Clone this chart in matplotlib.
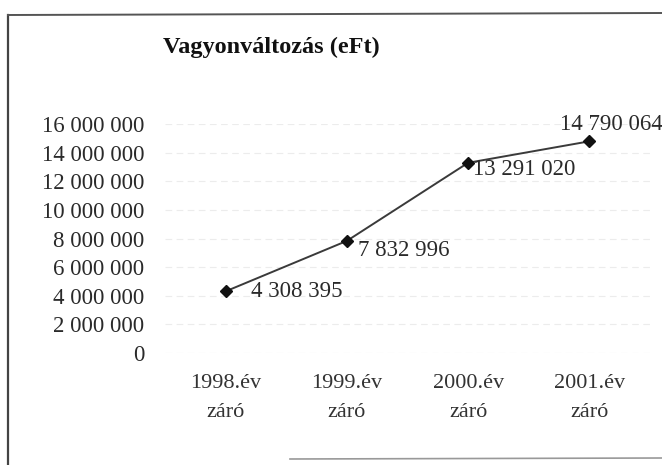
import matplotlib
matplotlib.use("Agg")
import matplotlib.pyplot as plt
from matplotlib.lines import Line2D
from matplotlib.ticker import FuncFormatter

categories = ["1998.év\nzáró", "1999.év\nzáró", "2000.év\nzáró", "2001.év\nzáró"]
values = [4308395, 7832996, 13291020, 14790064]
yticks = [0, 2000000, 4000000, 6000000, 8000000, 10000000, 12000000, 14000000, 16000000]
title = "Vagyonváltozás (eFt)"

plt.rcParams['font.family'] = ['Liberation Serif', 'DejaVu Serif']

fig = plt.figure(figsize=(6.62, 4.65), dpi=100)
W, H = 662, 465
ax = fig.add_axes([165 / W, 1 - 353 / H, (650 - 165) / W, (353 - 124) / H])

x = list(range(len(categories)))
ax.plot(x, values, color='#3a3a3a', lw=1.4, marker='D', markersize=6.5,
        markerfacecolor='#111111', markeredgecolor='#111111', zorder=3)

def fmt(v, pos=None):
    return f"{int(v):,}".replace(",", " ")

offsets = [(25, 0, 'left', 'center'), (11, -10, 'left', 'center'),
           (5, -7, 'left', 'center'), (22, 17, 'center', 'center')]
for xi, v, (dx, dy, ha, va) in zip(x, values, offsets):
    ax.annotate(fmt(v), (xi, v), xytext=(dx, dy), textcoords='offset pixels',
                ha=ha, va=va, fontsize=16.5, color='#2a2a2a', clip_on=False)

ax.set_xlim(-0.5, 3.5)
ax.set_ylim(0, 16000000)
ax.set_yticks(yticks)
ax.yaxis.set_major_formatter(FuncFormatter(fmt))
ax.set_xticks(x)
ax.set_xticklabels(categories, fontsize=16, color='#333333', linespacing=1.75)
for lab in ax.get_yticklabels():
    lab.set_fontsize(16.5)
    lab.set_color('#2a2a2a')
ax.tick_params(axis='y', length=0, pad=15)
ax.tick_params(axis='x', length=0, pad=15)
for s in ax.spines.values():
    s.set_visible(False)
ax.grid(axis='y', color='#ececec', lw=0.8, ls=(0, (6, 4)))
ax.set_axisbelow(True)

fig.text(271 / W, 1 - 47 / H, title, ha='center', va='center',
         fontsize=17.5, fontweight='bold', color='#111111')

# scanned frame
fig.add_artist(Line2D([8 / W, 8 / W], [0, 1 - 15 / H], transform=fig.transFigure,
                      color='#444444', lw=1.6))
fig.add_artist(Line2D([8 / W, 1], [1 - 15 / H, 1 - 13 / H], transform=fig.transFigure,
                      color='#555555', lw=1.4))
fig.add_artist(Line2D([290 / W, 1], [1 - 459 / H, 1 - 458 / H], transform=fig.transFigure,
                      color='#999999', lw=1.2))

fig.savefig("out.png", dpi=100)
